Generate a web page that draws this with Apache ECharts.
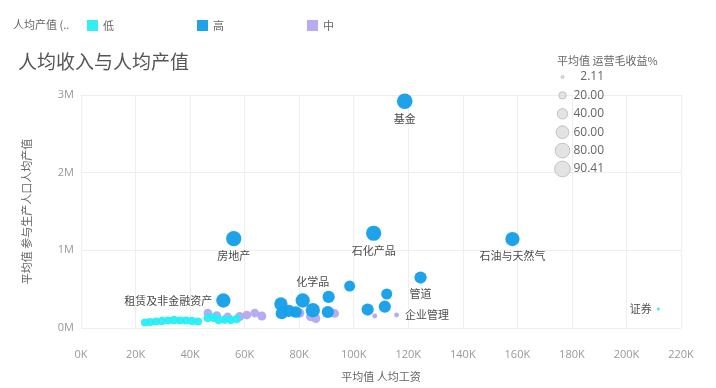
<!DOCTYPE html>
<html><head><meta charset="utf-8">
<script src="https://cdn.jsdelivr.net/npm/echarts@6/dist/echarts.min.js"></script>
<style>html,body{margin:0;padding:0;background:#fff}#c{width:716px;height:388px}</style>
</head><body><div id="c"></div>
<script>
// ---- data ----
const categories = ['低', '高', '中'];

const highNames = ['基金','石化产品','房地产','石油与天然气','管道','租赁及非金融资产','化学品','','','','','','','','','','',''];
const highX = [118700,107300,56000,158200,124500,52200,81300,98500,90800,73300,76200,73600,85000,90500,105100,112100,111400,78800];
const highY = [2920000,1220000,1150000,1145000,650000,354000,354000,540000,400000,310000,220000,190000,230000,206000,238000,438000,274000,206000];
const highV = [90,85,85,75,55,75,75,45,55,65,55,55,75,55,55,45,55,50];

const lowNames = ['','','','','','','','','','','','','','','','','证券'];
const lowX = [23400,25300,27500,29700,31900,34100,36300,38500,40700,42900,46500,48700,50500,52700,54900,57100,211700];
const lowY = [71000,77000,84000,90000,97000,103000,97000,97000,90000,84000,129000,135000,103000,109000,103000,116000,245000];
const lowV = [22,24,24,26,24,28,24,24,26,24,28,30,28,28,26,28,2.11];

const midNames = ['','','','','','','','','','','','','企业管理'];
const midX = [46500,49800,53800,58200,60800,63700,66300,80200,84200,86100,93000,107700,115700];
const midY = [193000,161000,142000,148000,167000,193000,155000,193000,148000,122000,187000,155000,167000];
const midV = [28,28,28,30,28,28,30,32,32,30,28,9,9];

const sizeLegendValues = [2.11, 20, 40, 60, 80, 90.41];
const xTickInterval = 20000, xMax = 220000;
const yTickInterval = 1000000, yMax = 3000000;

// ---- styles ----
const FONT = '"Noto Sans CJK SC", "Noto Sans", sans-serif';
const labelPos = {
  '基金': {position: 'bottom', distance: 4},
  '石化产品': {position: 'bottom', distance: 4},
  '房地产': {position: 'bottom', distance: 4},
  '石油与天然气': {position: 'bottom', distance: 4},
  '管道': {position: 'bottom', distance: 5},
  '租赁及非金融资产': {position: 'left', distance: 4},
  '化学品': {position: 'top', distance: 6, offset: [10, 0]},
  '企业管理': {position: 'right', distance: 6},
  '证券': {position: 'left', distance: 5}
};
const sizeOf = v => Math.max(3, 1.65 * Math.sqrt(v));

function build(xs, ys, vs, names) {
  return xs.map((x, i) => {
    const d = {value: [x, ys[i], vs[i]], name: names[i]};
    if (names[i] && labelPos[names[i]]) {
      d.label = Object.assign({show: true, formatter: names[i], color: '#444', fontSize: 11, fontFamily: FONT}, labelPos[names[i]]);
    }
    return d;
  });
}

const colors = {'低': '#26EEF4', '高': '#17A0E9', '中': '#B2A8F0'};

const chart = echarts.init(document.getElementById('c'), null, {renderer: 'canvas'});
chart.setOption({
  animation: false,
  textStyle: {fontFamily: FONT},
  title: [
    {text: '人均收入与人均产值', left: 13, top: 47, textStyle: {fontSize: 19, fontWeight: 'normal', color: '#555', fontFamily: FONT}},
    {text: '人均产值 (..', left: 8, top: 14, textStyle: {fontSize: 11, fontWeight: 'normal', color: '#666', fontFamily: FONT}},
    {text: '平均值 运营毛收益%', left: 552, top: 50, textStyle: {fontSize: 11, fontWeight: 'normal', color: '#666', fontFamily: FONT}}
  ],
  legend: {
    data: categories, left: 82, top: 15, icon: 'rect', itemWidth: 11, itemHeight: 11, itemGap: 83,
    textStyle: {color: '#666', fontSize: 11, fontFamily: FONT}
  },
  grid: [
    {left: 81, right: 35, top: 95, bottom: 60},
    {left: 555, top: 67.8, width: 15, height: 110.4}
  ],
  xAxis: [
    {type: 'value', min: 0, max: xMax, interval: xTickInterval, gridIndex: 0,
     name: '平均值 人均工资', nameLocation: 'middle', nameGap: 43,
     nameTextStyle: {color: '#666', fontSize: 11, fontFamily: FONT},
     axisLine: {show: false}, axisTick: {show: false},
     splitLine: {show: true, lineStyle: {color: '#eeeeee'}},
     axisLabel: {color: '#999', fontSize: 11, margin: 21, fontFamily: '"Open Sans", sans-serif', formatter: v => (v / 1000) + 'K'}},
    {type: 'value', min: -1, max: 1, gridIndex: 1, show: false}
  ],
  yAxis: [
    {type: 'value', min: 0, max: yMax, interval: yTickInterval, gridIndex: 0,
     name: '平均值 参与生产人口人均产值', nameLocation: 'middle', nameGap: 49, nameRotate: 90,
     nameTextStyle: {color: '#666', fontSize: 11, fontFamily: FONT},
     axisLine: {show: true, lineStyle: {color: '#eeeeee'}}, axisTick: {show: false},
     splitLine: {show: true, lineStyle: {color: '#eeeeee'}},
     axisLabel: {color: '#999', fontSize: 11, margin: 7, fontFamily: '"Open Sans", sans-serif', formatter: v => (v / 1e6) + 'M'}},
    {type: 'category', gridIndex: 1, inverse: true, position: 'right',
     data: sizeLegendValues.map(v => v.toFixed(2)),
     axisLine: {show: false}, axisTick: {show: false}, splitLine: {show: false},
     axisLabel: {align: 'right', margin: 34, color: '#666', fontSize: 12, fontFamily: '"Open Sans", sans-serif'}}
  ],
  series: [
    {type: 'scatter', name: '中', data: build(midX, midY, midV, midNames), symbolSize: d => sizeOf(d[2]),
     itemStyle: {color: colors['中'], opacity: 0.95}},
    {type: 'scatter', name: '低', data: build(lowX, lowY, lowV, lowNames), symbolSize: d => sizeOf(d[2]),
     itemStyle: {color: colors['低'], opacity: 0.95}},
    {type: 'scatter', name: '高', data: build(highX, highY, highV, highNames), symbolSize: d => sizeOf(d[2]),
     itemStyle: {color: colors['高'], opacity: 0.97}},
    {type: 'scatter', name: 'size', xAxisIndex: 1, yAxisIndex: 1, silent: true,
     data: sizeLegendValues.map((v, i) => [0, i, v]), symbolSize: d => sizeOf(d[2]),
     itemStyle: {color: '#dcdcdc', borderColor: '#b8b8b8', borderWidth: 1}}
  ]
});
</script></body></html>
